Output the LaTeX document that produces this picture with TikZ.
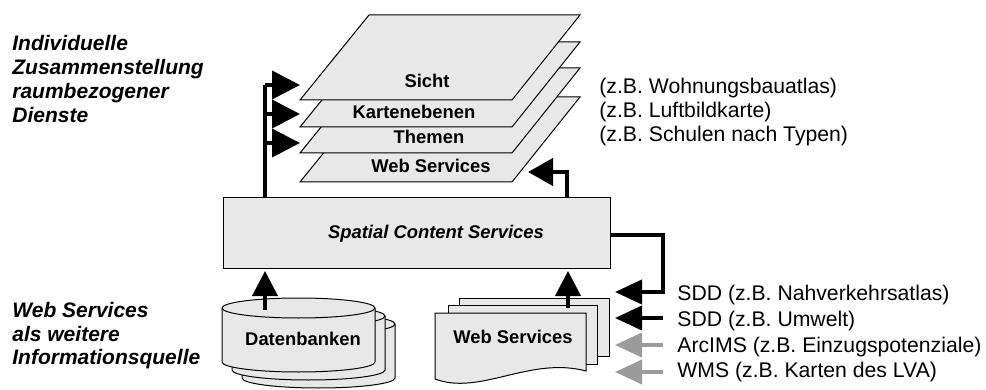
\documentclass[tikz,border=0pt]{standalone}
\usepackage{fontspec}
\setmainfont{Liberation Sans}
\usetikzlibrary{arrows.meta}
\definecolor{fillgray}{RGB}{232,232,232}
\definecolor{arrgray}{RGB}{155,155,155}
\newcommand\drawcyl[2]{%
  \draw[shp] (#1-76.5,#2) -- (#1-76.5,#2+54)
    arc[start angle=180,end angle=0,x radius=76.5,y radius=10]
    -- (#1+76.5,#2)
    arc[start angle=0,end angle=-180,x radius=76.5,y radius=10] -- cycle;
  \draw[shp,fill=none] (#1-76.5,#2) arc[start angle=180,end angle=0,x radius=76.5,y radius=10];}
\newcommand\drawlayer[1]{%
  \draw[shp] (300,#1) -- (512,#1) -- (580,#1-85) -- (369,#1-85) -- cycle;}
\begin{document}
\begin{tikzpicture}[x=0.5pt,y=-0.5pt,
  shp/.style={draw=black,line width=0.5pt,fill=fillgray},
  lbl/.style={inner sep=0pt,anchor=base,font=\fontsize{9.2}{11}\selectfont\bfseries},
  txt/.style={inner sep=0pt,anchor=base west,font=\fontsize{10.6}{12}\selectfont},
  sidetxt/.style={inner sep=0pt,anchor=north west,align=left,font=\fontsize{10.5}{12}\selectfont\bfseries\itshape},
  fanarrow/.style={line width=2pt,-{Triangle[length=14pt,width=14pt]}},
  uparrow/.style={line width=2pt,-{Triangle[length=12.5pt,width=12.5pt]}},
  inarrow/.style={line width=2pt,-{Triangle[length=13.5pt,width=12pt]}},
  backarrow/.style={line width=2pt,-{Triangle[length=12.5pt,width=13.5pt]}}]
\useasboundingbox (0,0) rectangle (986,390);

% left side texts
\node (sidetop) [sidetxt] at (12,35) {Individuelle\\Zusammenstellung\\raumbezogener\\Dienste};
\node (sidebot) [sidetxt,font=\fontsize{10.5}{11.75}\selectfont\bfseries\itshape] at (12,302) {Web Services\\als weitere\\Informationsquelle};

% stacked layers
\drawlayer{182}
\drawlayer{153}
\drawlayer{127}
\drawlayer{100}
\node (sicht) [lbl] at (427,88) {Sicht};
\node (karten) [lbl] at (414,119) {Kartenebenen};
\node (themen) [lbl] at (429,144) {Themen};
\node (wslayer) [lbl] at (431,173) {Web Services};

% examples on the right of the layers
\node (exA) [txt] at (599,94) {(z.B. Wohnungsbauatlas)};
\node (exB) [txt] at (599,118) {(z.B. Luftbildkarte)};
\node (exC) [txt] at (599,141) {(z.B. Schulen nach Typen)};

% main box
\node (scs) [shp,anchor=north west,minimum width=193.5pt,minimum height=35.5pt,inner sep=0pt] at (223,197) {};
\node (scslabel) [lbl,font=\fontsize{9.2}{11}\selectfont\bfseries\itshape] at (436,238) {Spatial Content Services};

% databases
\drawcyl{318.5}{324}
\drawcyl{308.5}{316}
\drawcyl{298.5}{308}
\node (db) [lbl] at (303,345) {Datenbanken};

% web service documents
\draw[shp] (459,298) rectangle (609,356);
\draw[shp] (448,305) rectangle (597,364);
\draw[shp] (435,313) -- (586,313) -- (586,371) .. controls (530,356) and (480,396) .. (435,379) -- cycle;
\node (wsdoc) [lbl] at (513,343) {Web Services};

% coordinates for connectors
\coordinate (fanbase) at (265,197);
\coordinate (fanA) at (265,85);
\coordinate (fanB) at (265,114);
\coordinate (fanC) at (265,143);
\coordinate (tipA) at (300,85);
\coordinate (tipB) at (300,114);
\coordinate (tipC) at (300,143);
\coordinate (wsbase) at (567,197);
\coordinate (wstip) at (528,172);
\coordinate (dbstart) at (265,310);
\coordinate (dbtip) at (265,271);
\coordinate (docstart) at (568,308);
\coordinate (doctip) at (568,271);
\coordinate (outstart) at (610,235);
\coordinate (outcorner) at (663,292);
\coordinate (tipN) at (615,292);
\coordinate (srcU) at (663,318);
\coordinate (tipU) at (615,318);
\coordinate (srcE) at (663,345);
\coordinate (tipE) at (615,345);
\coordinate (srcW) at (663,372);
\coordinate (tipW) at (615,372);

% connectors
\draw[line width=2pt] (fanbase) -- (fanA);
\draw[fanarrow] (fanA) -- (tipA);
\draw[fanarrow] (fanB) -- (tipB);
\draw[fanarrow] (fanC) -- (tipC);
\draw[backarrow] (wsbase) |- (wstip);
\draw[uparrow] (dbstart) -- (dbtip);
\draw[uparrow] (docstart) -- (doctip);
\draw[inarrow] (outstart) -| (outcorner) -- (tipN);
\draw[inarrow] (srcU) -- (tipU);
\draw[inarrow,draw=arrgray,fill=arrgray] (srcE) -- (tipE);
\draw[inarrow,draw=arrgray,fill=arrgray] (srcW) -- (tipW);

% source labels
\node (srcNlbl) [txt] at (677,300) {SDD (z.B. Nahverkehrsatlas)};
\node (srcUlbl) [txt] at (677,326) {SDD (z.B. Umwelt)};
\node (srcElbl) [txt] at (677,352) {ArcIMS (z.B. Einzugspotenziale)};
\node (srcWlbl) [txt] at (677,377) {WMS (z.B. Karten des LVA)};
\end{tikzpicture}
\end{document}
